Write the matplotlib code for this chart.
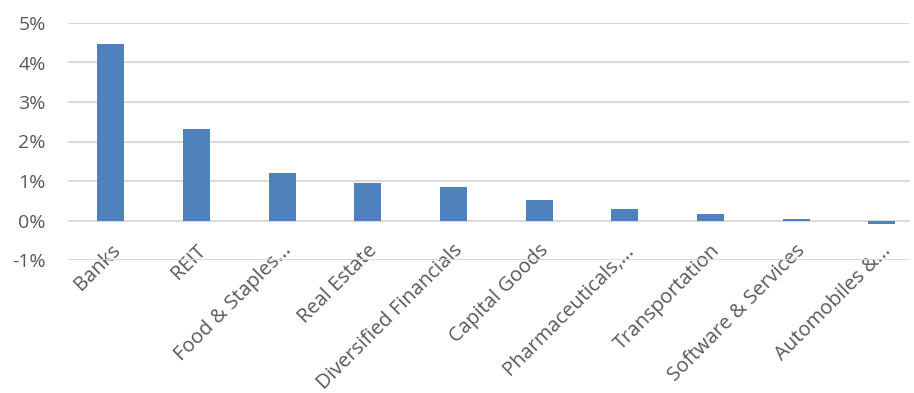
import matplotlib.pyplot as plt
import matplotlib.transforms as mtransforms
from matplotlib.ticker import FuncFormatter

# sector returns (%)
sectors = ["Banks", "REIT", "Food & Staples...", "Real Estate", "Diversified Financials",
           "Capital Goods", "Pharmaceuticals,...", "Transportation",
           "Software & Services", "Automobiles &..."]
returns = [4.47, 2.32, 1.21, 0.95, 0.84, 0.53, 0.28, 0.17, 0.03, -0.10]
yticks = [-1, 0, 1, 2, 3, 4, 5]

plt.rcParams['font.family'] = ['Open Sans', 'DejaVu Sans']

fig = plt.figure(figsize=(9.14, 3.93), dpi=100)
ax = fig.add_axes([68 / 914, 133 / 393, (910 - 68) / 914, 237 / 393])

ax.bar(range(len(sectors)), returns, width=0.315, color='#4F81BD', zorder=3)

ax.set_ylim(-1, 5)
ax.set_yticks(yticks)
ax.yaxis.set_major_formatter(FuncFormatter(lambda v, p: f"{v:.0f}%"))
ax.grid(axis='y', color='#D9D9D9', linewidth=1.4, zorder=0)
ax.set_xlim(-0.5, 9.33)

for s in ax.spines.values():
    s.set_visible(False)

ax.set_xticks(range(len(sectors)))
ax.set_xticklabels(sectors, rotation=45, ha='right', va='baseline',
                   rotation_mode='anchor')
ax.tick_params(axis='both', length=0, colors='#595959', labelsize=14)
ax.tick_params(axis='x', pad=0, labelsize=14.5)
ax.tick_params(axis='y', pad=16)

# excel puts the rotated labels up against the axis, slightly right of the bar
shift = mtransforms.ScaledTranslation(0.10, 0.09, fig.dpi_scale_trans)
for lbl in ax.get_xticklabels():
    lbl.set_transform(lbl.get_transform() + shift)

fig.savefig('out.png', dpi=100)
